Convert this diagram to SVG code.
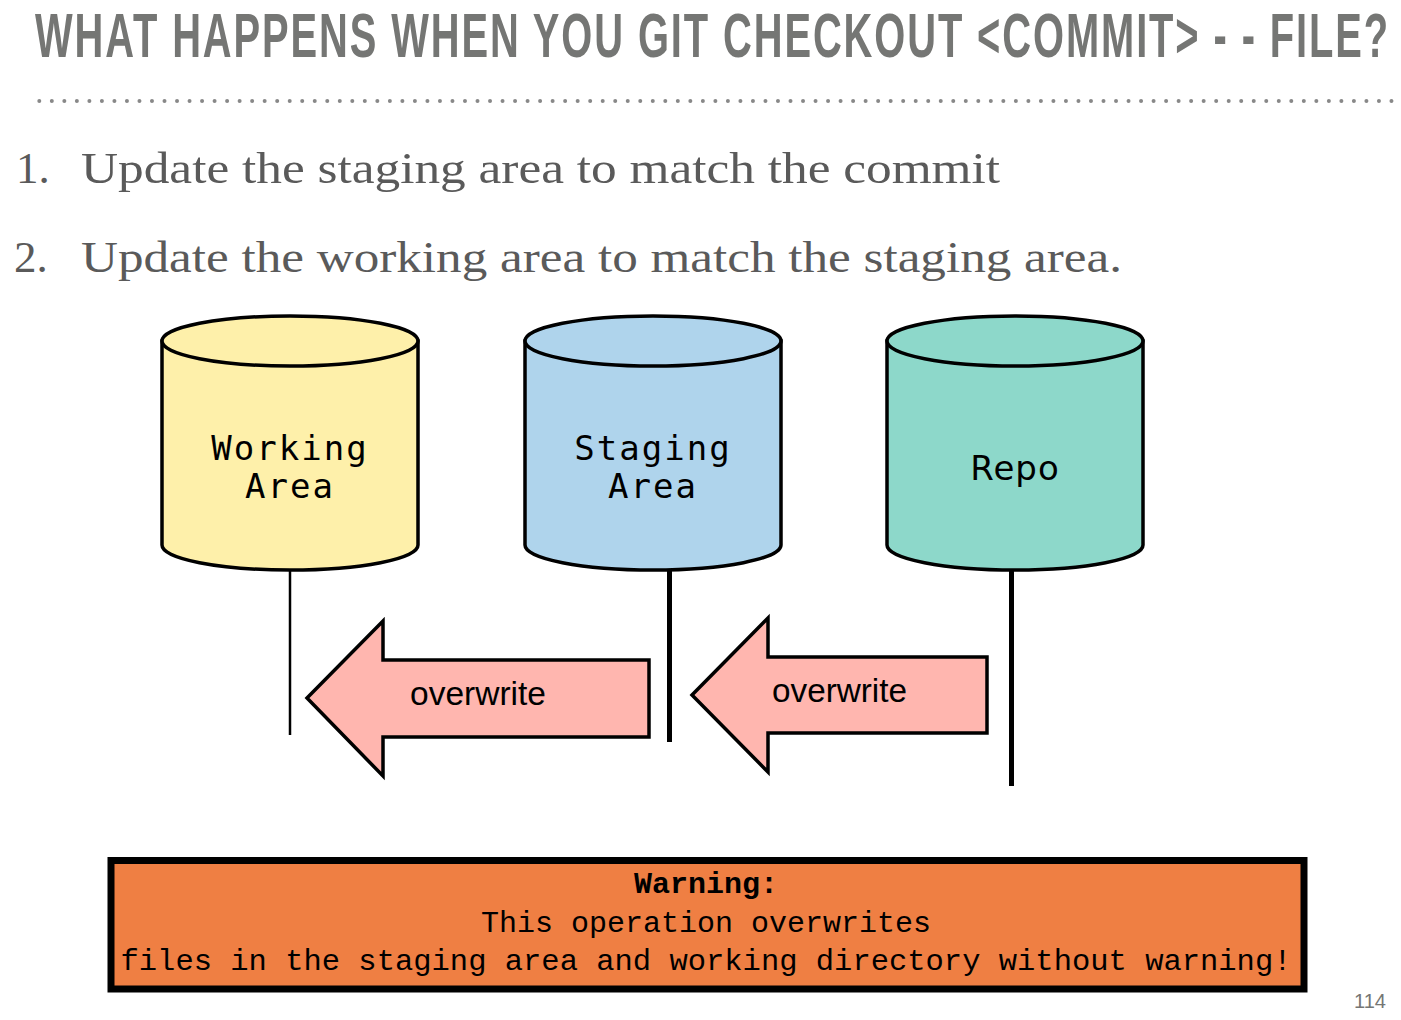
<svg xmlns="http://www.w3.org/2000/svg" width="1401" height="1020" viewBox="0 0 1401 1020">
<style>
.title{font-family:"Liberation Sans",Arial,sans-serif;font-weight:bold;fill:#757674;}
.list{font-family:"Liberation Serif","Times New Roman",serif;font-size:45px;fill:#5a5a5a;}
.cyl{stroke:#000;stroke-width:3.5;}
.mono{font-family:"DejaVu Sans Mono",monospace;font-size:34px;fill:#000;letter-spacing:2px;}
.sans{font-family:"DejaVu Sans",sans-serif;font-size:34px;fill:#000;letter-spacing:1px;}
.arrow{fill:#FFB6AF;stroke:#000;stroke-width:3.5;stroke-linejoin:miter;}
.alabel{font-family:"Liberation Sans",Arial,sans-serif;font-size:33px;fill:#000;}
.warn{font-family:"Liberation Mono","Courier New",monospace;font-size:30px;fill:#000;}
</style>
<rect width="1401" height="1020" fill="#fff"/>
<g id="title">
<text class="title" transform="scale(1,1.75)" x="35" y="32.57" font-size="36" letter-spacing="1.7" textLength="1355" lengthAdjust="spacingAndGlyphs">WHAT HAPPENS WHEN YOU GIT CHECKOUT &lt;COMMIT&gt; - - FILE?</text>
<line x1="39.3" y1="101" x2="1392" y2="101" stroke="#888" stroke-width="4" stroke-linecap="round" stroke-dasharray="0 12.52"/>
</g>
<g id="steps">
<text class="list" x="16" y="183">1.</text>
<text class="list" x="81" y="183" textLength="919" lengthAdjust="spacingAndGlyphs">Update the staging area to match the commit</text>
<text class="list" x="14" y="272">2.</text>
<text class="list" x="81" y="272" textLength="1041" lengthAdjust="spacingAndGlyphs">Update the working area to match the staging area.</text>
</g>
<g id="connectors">
<line x1="290" y1="570" x2="290" y2="735" stroke="#000" stroke-width="2.5"/>
<line x1="669.5" y1="570" x2="669.5" y2="742" stroke="#000" stroke-width="5"/>
<line x1="1011.5" y1="570" x2="1011.5" y2="786" stroke="#000" stroke-width="5"/>
</g>
<g id="working-area">
<path class="cyl" fill="#FEF0AA" d="M162,341 L162,545 A128,25 0 0 0 418,545 L418,341 Z"/>
<ellipse class="cyl" fill="#FEF0AA" cx="290" cy="341" rx="128" ry="25"/>
<text class="mono" x="290" y="460" text-anchor="middle">Working</text>
<text class="mono" x="290" y="498" text-anchor="middle">Area</text>
</g>
<g id="staging-area">
<path class="cyl" fill="#AFD4EC" d="M525,341 L525,545 A128,25 0 0 0 781,545 L781,341 Z"/>
<ellipse class="cyl" fill="#AFD4EC" cx="653" cy="341" rx="128" ry="25"/>
<text class="mono" x="653" y="460" text-anchor="middle">Staging</text>
<text class="mono" x="653" y="498" text-anchor="middle">Area</text>
</g>
<g id="repo">
<path class="cyl" fill="#8DD8CA" d="M887,341 L887,545 A128,25 0 0 0 1143,545 L1143,341 Z"/>
<ellipse class="cyl" fill="#8DD8CA" cx="1015" cy="341" rx="128" ry="25"/>
<text class="sans" x="1015" y="480" text-anchor="middle">Repo</text>
</g>
<g id="overwrite-1">
<polygon class="arrow" points="307,698 383,621 383,660 649,660 649,737 383,737 383,776"/>
<text class="alabel" x="410" y="705" textLength="136" lengthAdjust="spacingAndGlyphs">overwrite</text>
</g>
<g id="overwrite-2">
<polygon class="arrow" points="692,695 768,618 768,657 987,657 987,733 768,733 768,772"/>
<text class="alabel" x="772" y="702" textLength="135" lengthAdjust="spacingAndGlyphs">overwrite</text>
</g>
<g id="warning">
<rect x="111" y="860.5" width="1193" height="128.5" fill="#EF7F43" stroke="#000" stroke-width="7"/>
<text class="warn" x="706" y="893" text-anchor="middle" font-weight="bold">Warning:</text>
<text class="warn" x="706" y="932" text-anchor="middle">This operation overwrites</text>
<text class="warn" x="706" y="970" text-anchor="middle" textLength="1171" lengthAdjust="spacingAndGlyphs">files in the staging area and working directory without warning!</text>
</g>
<g id="page-number">
<text x="1386" y="1008" text-anchor="end" font-family="Liberation Sans,Arial,sans-serif" font-size="21" fill="#757674" textLength="32" lengthAdjust="spacingAndGlyphs">114</text>
</g>
</svg>
